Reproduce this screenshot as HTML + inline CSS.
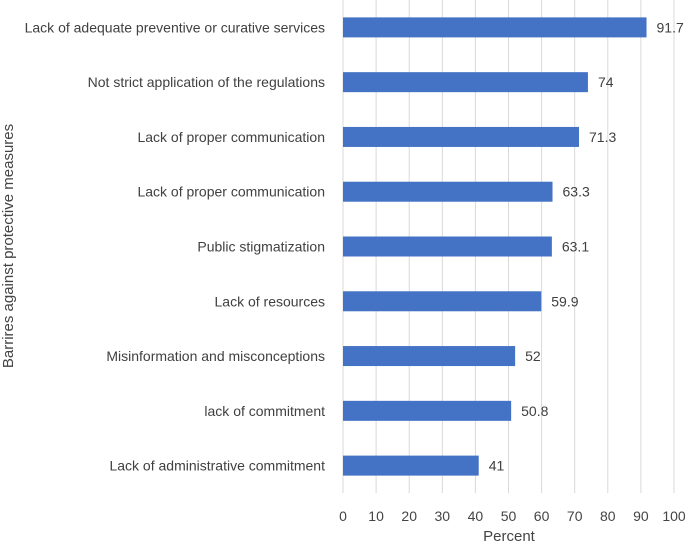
<!DOCTYPE html>
<html><head><meta charset="utf-8"><style>
body{margin:0;background:#fff;font-family:"Liberation Sans",sans-serif}
</style></head><body>
<svg width="685" height="544" xmlns="http://www.w3.org/2000/svg">
<g id="grid"></g><g id="bars"></g><g id="labels"></g>
<text x="509" y="541" text-anchor="middle" font-size="15" fill="#444">Percent</text>
<text transform="translate(13,246) rotate(-90)" text-anchor="middle" font-size="15" fill="#444">Barrires  against protective measures</text>
</svg>
<script>
const categories=["Lack of adequate preventive or curative services","Not strict application of the regulations","Lack of proper communication","Lack of proper communication","Public stigmatization","Lack of resources","Misinformation and misconceptions","lack of commitment","Lack of administrative commitment"];
const values=[91.7,74,71.3,63.3,63.1,59.9,52,50.8,41];
const ticks=[0,10,20,30,40,50,60,70,80,90,100];
const NS="http://www.w3.org/2000/svg";
const x0=343,x1=674,plotTop=0,plotBot=493;
const xs=v=>x0+(v/100)*(x1-x0);
const band=(plotBot-plotTop)/categories.length;
const yc=i=>plotTop+band*(i+0.5);
function mk(t,a,p,txt){const e=document.createElementNS(NS,t);for(const k in a)e.setAttribute(k,a[k]);if(txt!=null)e.textContent=txt;document.getElementById(p).appendChild(e);return e;}
ticks.forEach(t=>{
 const l=mk('line',{x1:xs(t),x2:xs(t),y1:plotTop,y2:plotBot,stroke:'#d9d9d9','stroke-width':1},'grid');
 
 
 const tx=mk('text',{x:xs(t),y:521,'text-anchor':'middle','font-size':14,fill:'#444'},'labels',t);
 
 
});
categories.forEach((c,i)=>{
 const r=mk('rect',{x:x0,y:yc(i)-10,width:xs(values[i])-x0,height:20,fill:'#4472c4'},'bars');
 
 
 const v=mk('text',{x:xs(values[i])+10,y:yc(i)+5,'font-size':14,fill:'#404040'},'labels',values[i]);
 
 
 const cl=mk('text',{x:325,y:yc(i)+5,'text-anchor':'end','font-size':14,fill:'#404040'},'labels',c);
 
 
});
</script>
</body></html>
